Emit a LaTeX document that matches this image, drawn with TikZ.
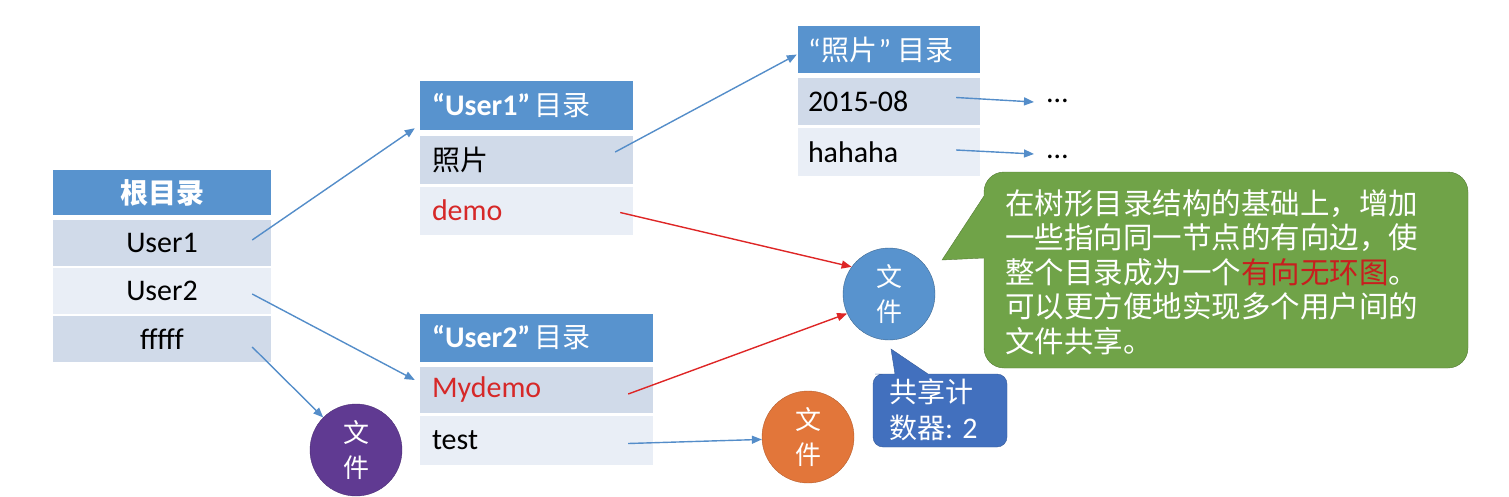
\documentclass[tikz,border=0pt]{standalone}
\usepackage{fontspec}
\setmainfont{Carlito}[Scale=1.07]
\newfontfamily\cjk{Noto Sans CJK SC}
\usetikzlibrary{arrows.meta}

\definecolor{hdrblue}{RGB}{88,147,206}
\definecolor{rowdark}{RGB}{208,218,233}
\definecolor{rowlight}{RGB}{233,238,246}
\definecolor{arrblue}{RGB}{84,141,201}
\definecolor{arrred}{RGB}{222,38,38}
\definecolor{txtred}{RGB}{214,40,40}
\definecolor{filepurple}{RGB}{96,58,146}
\definecolor{fileorange}{RGB}{226,118,58}
\definecolor{cntblue}{RGB}{66,112,190}
\definecolor{tipgreen}{RGB}{112,163,72}
\definecolor{tipgreendk}{RGB}{84,124,52}
\definecolor{tipred}{RGB}{200,30,30}
\newcommand\tabfont{\fontsize{28}{34}\selectfont}
\newcommand\filefont{\fontsize{26}{35}\selectfont}

\begin{document}
\begin{tikzpicture}[x=1pt,y=-1pt,
  hdr/.style={fill=hdrblue,text=white,inner ysep=0,minimum height=48,font=\tabfont},
  rowd/.style={fill=rowdark,inner ysep=0,minimum height=48,font=\tabfont},
  rowl/.style={fill=rowlight,inner ysep=0,minimum height=48,font=\tabfont},
  file/.style={circle,minimum size=92,inner sep=0,text=white,align=center,font=\filefont},
  arr/.style={draw=arrblue,line width=1.4,-{Triangle[length=10pt,width=8pt]}},
  redarr/.style={draw=arrred,line width=1.4,-{Triangle[length=10pt,width=8pt]}}]
\useasboundingbox (0,0) rectangle (1509,496);

% root directory
\node[hdr,text width=218,inner xsep=0,align=center,minimum height=45] (root) at (162,192.5) {\cjk\bfseries 根目录};
\node[rowd,text width=218,inner xsep=0,align=center,minimum height=46] (r1) at (162,243) {User1};
\node[rowl,text width=218,inner xsep=0,align=center,minimum height=46] (r2) at (162,291) {User2};
\node[rowd,text width=218,inner xsep=0,align=center,minimum height=46] (r3) at (162,339) {fffff};

% User1 directory
\node[hdr,text width=189,inner xsep=12,align=left,minimum height=49] (u1) at (526.5,105.5) {\textbf{“User1”}\kern4pt{\cjk 目录}};
\node[rowd,text width=189,inner xsep=12,align=left] (u1a) at (526.5,160) {{\cjk 照片}};
\node[rowl,text width=189,inner xsep=12,align=left] (u1b) at (526.5,210.5) {\textcolor{txtred}{demo}};

% photo directory
\node[hdr,text width=162,inner xsep=10,align=left,minimum height=47] (ph) at (889,49.5) {“\kern1pt{\cjk 照片}\kern1pt”\kern6pt{\cjk 目录}};
\node[rowd,text width=162,inner xsep=10,align=left,minimum height=47] (p1) at (889,101.5) {2015-08};
\node[rowl,text width=162,inner xsep=10,align=left] (p2) at (889,152) {hahaha};
\node[anchor=base west,inner sep=0,font=\tabfont] (d1) at (1047,102) {…};
\node[anchor=base west,inner sep=0,font=\tabfont] (d2) at (1047,158) {…};

% User2 directory
\node[hdr,text width=209,inner xsep=12,align=left] (u2) at (536.5,338) {\textbf{“User2”}\kern4pt{\cjk 目录}};
\node[rowd,text width=209,inner xsep=12,align=left,minimum height=46] (u2a) at (536.5,390) {\textcolor{txtred}{Mydemo}};
\node[rowl,text width=209,inner xsep=12,align=left,minimum height=49] (u2b) at (536.5,440.5) {test};

% files
\node[file,fill=filepurple,draw=filepurple!80!black] (fp) at (356,450) {\cjk 文\\\cjk 件};
\node[file,fill=hdrblue,draw=hdrblue!70!black] (fb) at (889,294) {\cjk 文\\\cjk 件};
\node[file,fill=fileorange,draw=fileorange!80!black] (fo) at (808,437) {\cjk 文\\\cjk 件};

% links
\path[arr] ([xshift=-19pt,yshift=3pt]r1.east) -- ([xshift=-5pt,yshift=2pt]u1.south west);
\path[arr] ([xshift=-19pt,yshift=-3pt]r2.east) -- ([xshift=-5pt,yshift=10pt]u2a.west);
\path[arr] ([xshift=-19pt,yshift=-8pt]r3.east) -- (fp);
\path[arr] ([xshift=-18pt,yshift=8pt]u1a.east) -- ([xshift=-1pt,yshift=-5pt]ph.west);
\path[arr] ([xshift=-24pt,yshift=4pt]p1.east) -- ([xshift=-13pt]d1.base west);
\path[arr] ([xshift=-24pt,yshift=2pt]p2.east) -- ([xshift=-13pt,yshift=4pt]d2.base west);
\path[arr] ([xshift=-25pt,yshift=-3pt]u2b.east) -- (fo.183);
\path[redarr] ([xshift=-13pt,yshift=-2pt]u1b.east) -- (fb.144);
\path[redarr] ([xshift=-25pt,yshift=-4pt]u2a.east) -- (fb.205);

% share counter
\path[fill=cntblue,draw=cntblue!80!black] (891,349) -- (928,374) -- (930,374) [rounded corners=10] -- (1007,374) -- (1007,447) -- (873,447) -- (873,374) -- (885,374) [sharp corners] -- (895,374) -- cycle;
\node[anchor=north west,inner sep=0,text=white,align=left,font=\fontsize{28}{36}\selectfont] (cnt) at (889,379) {{\cjk 共享计}\\{\cjk 数器}: 2};

% note
\path[fill=tipgreen,draw=tipgreendk] (942,260) -- (984,196) -- (984,194) [rounded corners=20] -- (984,172) -- (1468,172) -- (1468,368) -- (984,368) -- (984,300) [sharp corners] -- (984,258) -- cycle;
\node[anchor=north west,inner sep=0,text=white,align=left,font={\cjk\fontsize{29.5}{34.5}\selectfont}] (note) at (1005,189) {在树形目录结构的基础上，增加\\一些指向同一节点的有向边，使\\整个目录成为一个\textcolor{tipred}{有向无环图}。\\可以更方便地实现多个用户间的\\文件共享。};
\end{tikzpicture}
\end{document}
